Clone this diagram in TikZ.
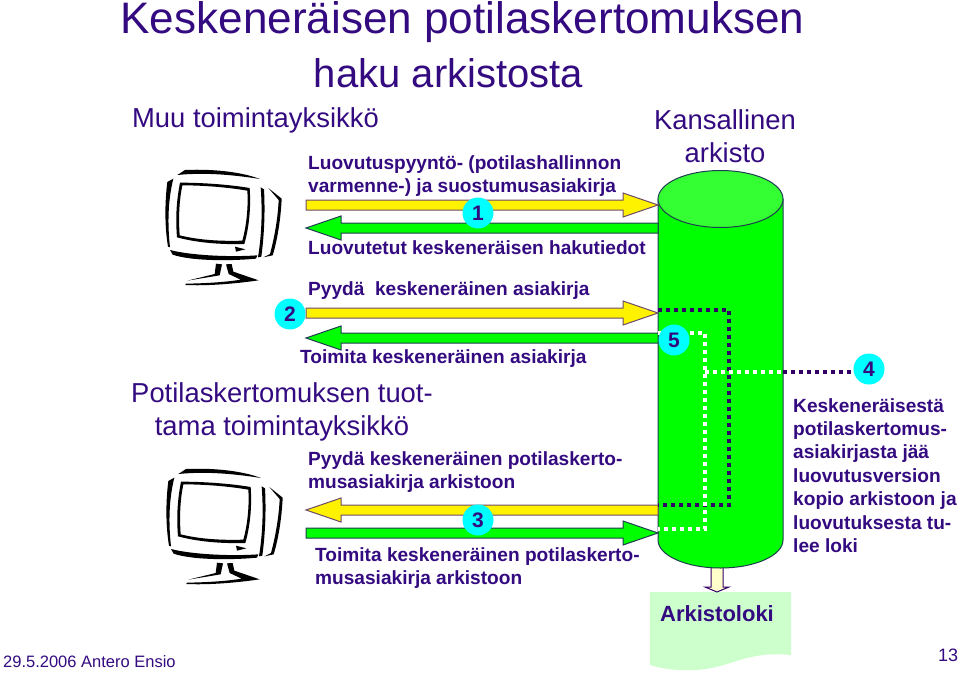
\documentclass[tikz,border=0pt]{standalone}
\usepackage{fontspec}
\setmainfont{Liberation Sans}
\usetikzlibrary{calc}
\definecolor{inkpurple}{HTML}{330A80}
\definecolor{dotpurple}{HTML}{330066}
\definecolor{edgedark}{HTML}{1F3D50}
\definecolor{edgebrown}{HTML}{6E4A6A}
\definecolor{bubble}{HTML}{00FFFF}
\definecolor{cylbody}{HTML}{00FF00}
\definecolor{cyltop}{HTML}{33FF33}
\definecolor{docfill}{HTML}{CCFFCC}
\definecolor{logfill}{HTML}{FFFFCC}
\tikzset{
    label/.style={text=inkpurple,inner sep=0pt,align=left,anchor=north west,font=\bfseries\fontsize{19.1}{23.4}\selectfont},
    big/.style={text=inkpurple,inner sep=0pt,align=center,font=\fontsize{27.4}{32.5}\selectfont},
    titleline/.style={text=inkpurple,inner sep=0pt,font=\fontsize{44.1}{53}\selectfont},
    num/.style={shape=circle,fill=bubble,text=inkpurple,inner sep=0pt,minimum size=31pt,font=\bfseries\fontsize{21}{21}\selectfont},
    yellowarrow/.style={draw=edgebrown,fill=yellow,line width=1pt},
    greenarrow/.style={draw=edgedark,fill=cylbody,line width=1pt},
    darkdots/.style={draw=dotpurple,line width=3.6pt,dash pattern=on 4pt off 4pt},
    whitedots/.style={draw=white,line width=3.6pt,dash pattern=on 4pt off 4pt},
    pics/monitor/.style={code={
        \fill[black] (82,75) .. controls (92,66) .. (105,60) .. controls (200,56) and (280,68) .. (330,87) .. controls (260,76) and (170,66) .. (82,75) -- cycle;
        \fill[black] (70,86) -- (52,96) .. controls (44,160) and (44,230) .. (54,290) -- (60,292) .. controls (52,220) and (54,150) .. (70,86) -- cycle;
        \fill[black] (332,112) -- (342,118) .. controls (346,190) and (342,260) .. (334,320) -- (324,322) .. controls (334,260) and (338,190) .. (332,112) -- cycle;
        \fill[black] (355,114) -- (395,146) .. controls (392,210) and (382,270) .. (368,316) -- (340,322) -- (360,312) .. controls (374,260) and (384,200) .. (386,150) -- cycle;
        \fill[black,even odd rule] (90,98) .. controls (160,98) and (240,104) .. (299,114) .. controls (303,170) and (298,230) .. (283,282) .. controls (210,284) and (140,278) .. (81,262) .. controls (76,200) and (80,150) .. (90,98) -- cycle
            (97,106) .. controls (160,106) and (235,112) .. (292,122) .. controls (295,170) and (290,225) .. (277,272) .. controls (210,274) and (145,270) .. (89,256) .. controls (85,200) and (88,150) .. (97,106) -- cycle;
        \fill[black] (60,300) .. controls (120,316) and (240,322) .. (322,316) -- (318,326) .. controls (230,334) and (120,332) .. (68,314) -- cycle;
        \fill[black] (255,290) -- (286,298) -- (258,305) -- cycle;
        \fill[black] (198,341) -- (216,343) -- (209,376) -- (112,392) -- (194,372) -- cycle;
        \fill[black] (228,343) -- (245,342) -- (250,365) -- (326,391) .. controls (250,402) and (170,408) .. (106,405) -- (108,401) .. controls (170,400) and (230,396) .. (272,389) -- (236,372) -- cycle;
    }}
}
% horizontal block arrow from #2 to #3
\newcommand{\blockarrow}[3][]{%
    \draw[#1] let \p1=(#2),\p2=(#3),\n1={sign(\x2-\x1)} in
        (\x1,\y1+5pt) -- (\x2-35pt*\n1,\y1+5pt) -- (\x2-35pt*\n1,\y1+12pt) -- (\x2,\y1)
        -- (\x2-35pt*\n1,\y1-12pt) -- (\x2-35pt*\n1,\y1-5pt) -- (\x1,\y1-5pt) -- cycle;
}
\begin{document}
\begin{tikzpicture}[x=1pt,y=-1pt]
    \useasboundingbox (0,0) rectangle (960,674);

    \node[titleline] (T1) at (462.5,22) {Keskeneräisen potilaskertomuksen};
    \node[titleline,font=\fontsize{40}{53}\selectfont] (T2) at (448.5,73) {haku arkistosta};
    \node[big] (Muu) at (255.5,120) {Muu toimintayksikkö};
    \node[big] (Kans) at (725,136) {Kansallinen\\arkisto};
    \node[big] (Pot) at (282,412) {Potilaskertomuksen tuot-\\tama toimintayksikkö};

    \pic[scale=1/3] (M1) at (150,150) {monitor};
    \pic[scale=1/3] (M2) at (151,449) {monitor};

    % arrow and sheet below the store
    \coordinate (A0) at (717,565);
    \coordinate (A1) at (717,592);
    \path[fill=docfill] (650,592) -- (791,592) -- (791,655) .. controls (740,650) and (730,672) .. (683,670) .. controls (670,670) and (660,668) .. (650,665) -- cycle;
    \draw[draw=dotpurple,fill=logfill,line width=1pt] let \p1=(A0),\p2=(A1) in
        (\x1-6pt,\y1) -- (\x1-6pt,\y2+5pt) -- (\x1-12pt,\y2+5pt) -- (\x2,\y2) -- (\x1+12pt,\y2+5pt) -- (\x1+6pt,\y2+5pt) -- (\x1+6pt,\y1) -- cycle;
    \node[text=inkpurple,inner sep=0pt,font=\bfseries\fontsize{22}{22}\selectfont] (Loki) at (717,614) {Arkistoloki};

    % the store
    \draw[draw=edgedark,fill=cylbody,line width=1pt] (658,199) -- (658,540) arc[start angle=180,end angle=0,x radius=62.5,y radius=28] -- (783,199) -- cycle;
    \draw[draw=edgedark,fill=cyltop,line width=1pt] (720.5,199) ellipse[x radius=62.5,y radius=28.5];

    \coordinate (Y1a) at (306,205);
    \coordinate (Y1b) at (658,205);
    \coordinate (G1a) at (658,228);
    \coordinate (G1b) at (306,228);
    \coordinate (Y2a) at (306,313);
    \coordinate (Y2b) at (658,313);
    \coordinate (G2a) at (658,338);
    \coordinate (G2b) at (306,338);
    \coordinate (Y3a) at (658,510);
    \coordinate (Y3b) at (306,510);
    \coordinate (G3a) at (306,533);
    \coordinate (G3b) at (658,533);

    \blockarrow[yellowarrow]{Y1a}{Y1b}
    \blockarrow[greenarrow]{G1a}{G1b}
    \blockarrow[yellowarrow]{Y2a}{Y2b}
    \blockarrow[greenarrow]{G2a}{G2b}
    \blockarrow[yellowarrow]{Y3a}{Y3b}
    \blockarrow[greenarrow]{G3a}{G3b}

    \coordinate (D1) at (658,310);
    \coordinate (D2) at (729,310);
    \coordinate (D3) at (729,505);
    \coordinate (D4) at (658,505);
    \coordinate (W1) at (658,333);
    \coordinate (W2) at (705,333);
    \coordinate (W3) at (705,529);
    \coordinate (W4) at (658,529);
    \coordinate (J) at (705,372);
    \coordinate (K) at (783,372);
    \coordinate (E) at (858,372);

    \draw[darkdots] (D1) -- (D2) -- (D3) -- (D4);
    \draw[whitedots] (W1) -- (W2) -- (W3) -- (W4);
    \draw[whitedots] (J) -- (K);
    \draw[darkdots] (K) -- (E);

    \node[num] (N1) at (478,213) {1};
    \node[num] (N2) at (290,314) {2};
    \node[num] (N3) at (478,520) {3};
    \node[num] (N4) at (869,369) {4};
    \node[num] (N5) at (674,340) {5};

    \node[label] (L1) at (308,155) {Luovutuspyyntö- (potilashallinnon\\varmenne-) ja suostumusasiakirja};
    \node[label] (L2) at (308,240) {Luovutetut keskeneräisen hakutiedot};
    \node[label] (L3) at (308,281) {Pyydä\ \ keskeneräinen asiakirja};
    \node[label] (L4) at (300,349) {Toimita keskeneräinen asiakirja};
    \node[label] (L5) at (308,451) {Pyydä keskeneräinen potilaskerto-\\musasiakirja arkistoon};
    \node[label] (L6) at (315,547) {Toimita keskeneräinen potilaskerto-\\musasiakirja arkistoon};
    \node[label] (L7) at (793,398) {Keskeneräisestä\\potilaskertomus-\\asiakirjasta jää\\luovutusversion\\kopio arkistoon ja\\luovutuksesta tu-\\lee loki};

    \node[text=inkpurple,inner sep=0pt,anchor=west,font=\fontsize{16.5}{18}\selectfont] (Foot) at (3,662) {29.5.2006 Antero Ensio};
    \node[text=inkpurple,inner sep=0pt,font=\fontsize{18}{18}\selectfont] (Page) at (948,655) {13};
\end{tikzpicture}
\end{document}
